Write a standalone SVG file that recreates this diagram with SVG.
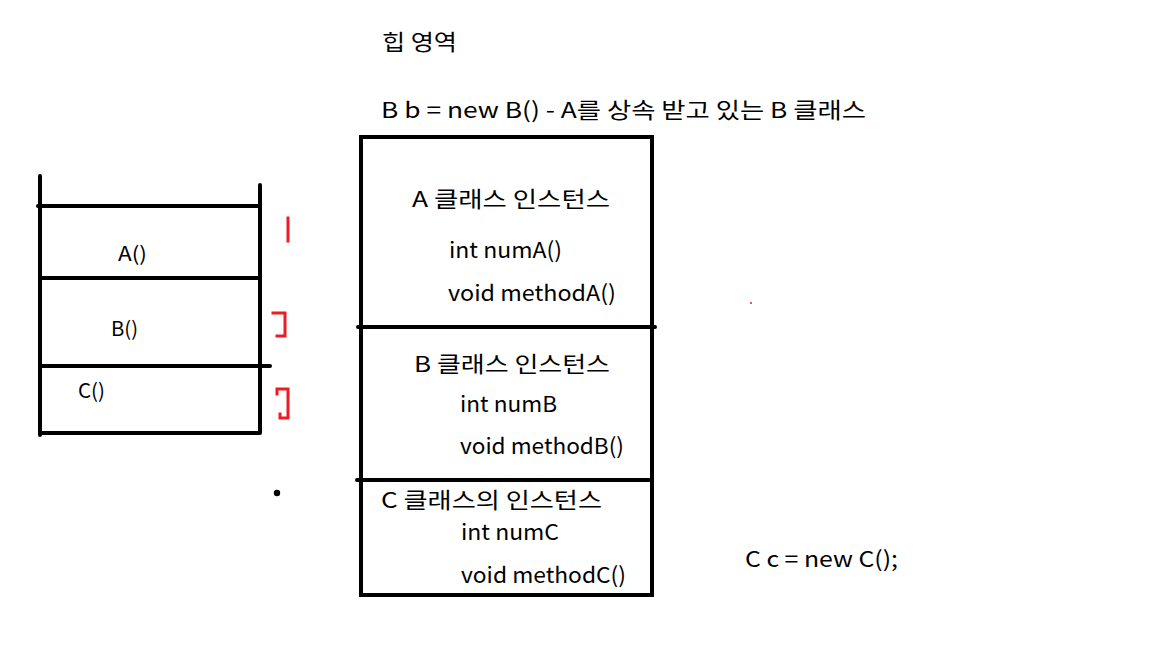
<svg xmlns="http://www.w3.org/2000/svg" width="1152" height="648" viewBox="0 0 1152 648">
<style>
.t{font-family:"Malgun Gothic","Noto Sans CJK KR","Noto Sans",sans-serif;font-size:22px;fill:#000}
.s{font-size:20px}
.k{stroke:#000;stroke-width:4;fill:none;stroke-linecap:round}
.r{stroke:#ed1c24;stroke-width:3;fill:none;stroke-linecap:square;stroke-linejoin:miter}
</style>
<rect width="1152" height="648" fill="#fff"/>
<g id="stack">
<path class="k" d="M40 176V435M260 185V433M38 206H260M41 278H260M42 366H270M40 433H260"/>
<text class="t s" x="118" y="261" textLength="29" lengthAdjust="spacingAndGlyphs">A()</text>
<text class="t s" x="111" y="336" textLength="27" lengthAdjust="spacingAndGlyphs">B()</text>
<text class="t s" x="78" y="398" textLength="27" lengthAdjust="spacingAndGlyphs">C()</text>
</g>
<g id="marks">
<path class="r" d="M288 218V241"/>
<path class="r" d="M273 313H285V336H277"/>
<path class="r" d="M277 394V389H288V418H280V414"/>
<circle cx="277" cy="493" r="3.2" fill="#000"/>
<circle cx="751" cy="303" r="1" fill="#ed1c24"/>
</g>
<g id="titles">
<text class="t" x="382" y="50" font-size="23" textLength="75" lengthAdjust="spacingAndGlyphs">힙 영역</text>
<text class="t" x="381" y="118" textLength="485" lengthAdjust="spacingAndGlyphs">B b = new B() - A를 상속 받고 있는 B 클래스</text>
</g>
<g id="heap">
<path class="k" d="M361 137H652V595H361ZM358 327H655M357 480H652"/>
</g>
<g id="instA">
<text class="t" x="412" y="207" textLength="198" lengthAdjust="spacingAndGlyphs">A 클래스 인스턴스</text>
<text class="t" x="449" y="258" textLength="113" lengthAdjust="spacingAndGlyphs">int numA()</text>
<text class="t" x="448" y="301" textLength="168" lengthAdjust="spacingAndGlyphs">void methodA()</text>
</g>
<g id="instB">
<text class="t" x="414" y="372" textLength="196" lengthAdjust="spacingAndGlyphs">B 클래스 인스턴스</text>
<text class="t" x="460" y="412" textLength="97" lengthAdjust="spacingAndGlyphs">int numB</text>
<text class="t" x="460" y="454" textLength="164" lengthAdjust="spacingAndGlyphs">void methodB()</text>
</g>
<g id="instC">
<text class="t" x="381" y="508" textLength="221" lengthAdjust="spacingAndGlyphs">C 클래스의 인스턴스</text>
<text class="t" x="461" y="540" textLength="98" lengthAdjust="spacingAndGlyphs">int numC</text>
<text class="t" x="461" y="583" textLength="165" lengthAdjust="spacingAndGlyphs">void methodC()</text>
</g>
<g id="newC">
<text class="t" x="745" y="567" textLength="153" lengthAdjust="spacingAndGlyphs">C c = new C();</text>
</g>
</svg>
